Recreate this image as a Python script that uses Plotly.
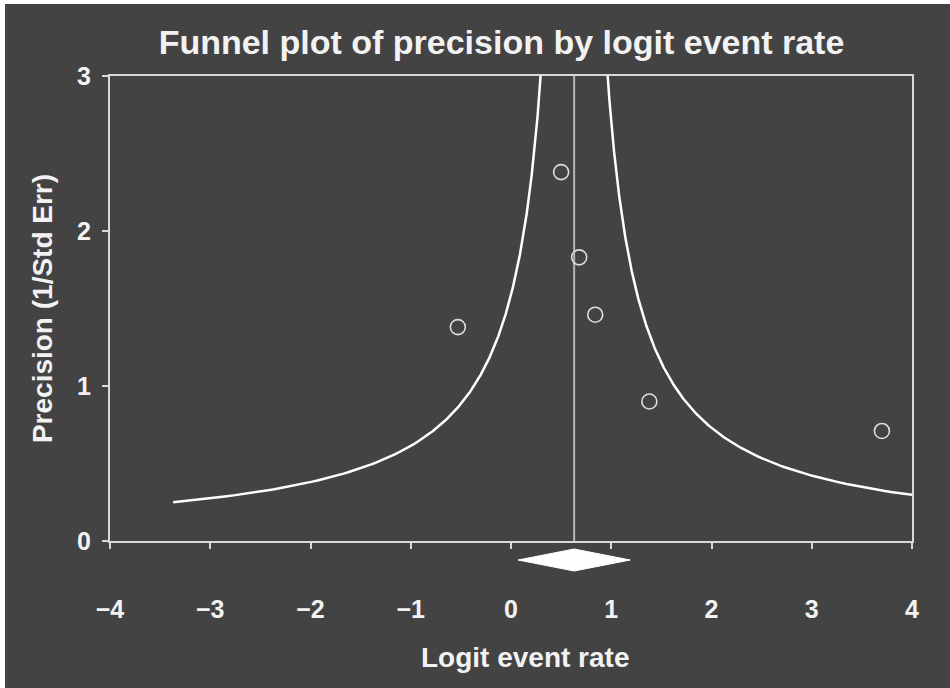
import numpy as np
import plotly.graph_objects as go

# Study data (logit event rate, precision = 1/SE)
logit_rate = [-0.53, 0.50, 0.68, 0.84, 1.38, 3.70]
precision = [1.38, 2.38, 1.83, 1.46, 0.90, 0.71]

# Pooled estimate and its confidence interval (diamond)
pooled = 0.63
ci_low = 0.07
ci_high = 1.19

# Funnel half-width constant (limit = pooled +/- k / precision)
k_funnel = 1.0
left_start_prec = 0.25

x_ticks = [-4, -3, -2, -1, 0, 1, 2, 3, 4]
y_ticks = [0, 1, 2, 3]

W, H = 950, 688
ML, MR, MT, MB = 110, 38, 76, 147
BG = "#434343"
FG = "#f2f2f2"
FONT = "Liberation Sans, Arial, sans-serif"

fig = go.Figure()

p_left = np.linspace(left_start_prec, 3.2, 400)
fig.add_trace(go.Scatter(x=pooled - k_funnel / p_left, y=p_left, mode="lines",
                         line=dict(color="white", width=2.5), hoverinfo="skip"))
p_right = np.linspace(k_funnel / (4.2 - pooled), 3.2, 400)
fig.add_trace(go.Scatter(x=pooled + k_funnel / p_right, y=p_right, mode="lines",
                         line=dict(color="white", width=2.5), hoverinfo="skip"))

# vertical line at pooled estimate
fig.add_trace(go.Scatter(x=[pooled, pooled], y=[0, 3], mode="lines",
                         line=dict(color="#b5b5b5", width=2), hoverinfo="skip"))

fig.add_trace(go.Scatter(x=logit_rate, y=precision, mode="markers",
                         marker=dict(symbol="circle-open", size=15,
                                     line=dict(color="#dddddd", width=1.6),
                                     color="#dddddd")))

# diamond below the axis, in paper coordinates
xr = (-4, 4)
def px(v):
    return (v - xr[0]) / (xr[1] - xr[0])
plot_h = H - MT - MB
yc = -19 / plot_h
hh = 11 / plot_h
path = (f"M {px(ci_low)} {yc} L {px(pooled)} {yc + hh} "
        f"L {px(ci_high)} {yc} L {px(pooled)} {yc - hh} Z")

plot_w = W - ML - MR
# white strip at top & left edges of the picture
left_px = 5
top_px = 4
shapes = [
    dict(type="rect", xref="paper", yref="paper", layer="below",
         x0=(left_px - ML) / plot_w, x1=(W - ML) / plot_w + 0.01,
         y0=-MB / plot_h - 0.01, y1=(plot_h + MT - top_px) / plot_h,
         fillcolor=BG, line=dict(width=0)),
    dict(type="path", xref="paper", yref="paper", path=path,
         fillcolor="white", line=dict(color="white", width=1)),
]

fig.update_layout(
    width=W, height=H,
    margin=dict(l=ML, r=MR, t=MT, b=MB),
    paper_bgcolor="white",
    plot_bgcolor=BG,
    showlegend=False,
    shapes=shapes,
    font=dict(family=FONT, color=FG),
    title=dict(text="<b>Funnel plot of precision by logit event rate</b>",
               x=(ML + plot_w / 2) / W - 0.01, xanchor="center",
               y=1 - 42 / H, yanchor="middle",
               font=dict(size=34, color=FG, family=FONT)),
    annotations=[dict(text="<b>Logit event rate</b>", xref="paper", yref="paper",
                      x=(525 - ML) / plot_w, y=-(658 - (H - MB)) / plot_h,
                      xanchor="center", yanchor="middle", showarrow=False,
                      font=dict(size=28, color=FG, family=FONT))],
    xaxis=dict(range=[-4, 4], tickvals=x_ticks,
               ticktext=[("<b>" + ("\u2212" + str(-v) if v < 0 else str(v)) + "</b>") for v in x_ticks],
               tickfont=dict(size=25, color=FG),
               showgrid=False, zeroline=False,
               showline=True, linecolor="#d9d9d9", linewidth=2, mirror=True,
               ticks="outside", ticklen=6, tickwidth=2, tickcolor="#d9d9d9",
               ticklabelstandoff=39),
    yaxis=dict(range=[0, 3], tickvals=y_ticks,
               ticktext=[f"<b>{v}</b>" for v in y_ticks],
               tickfont=dict(size=25, color=FG),
               showgrid=False, zeroline=False,
               showline=True, linecolor="#d9d9d9", linewidth=2, mirror=True,
               ticks="outside", ticklen=6, tickwidth=2, tickcolor="#d9d9d9",
               ticklabelstandoff=6,
               title=dict(text="<b>Precision (1/Std Err)</b>", font=dict(size=28, color=FG),
                          standoff=16)),
)

fig.write_html("out.html", config={"displayModeBar": False},
               post_script="document.body.style.margin='0px';")
